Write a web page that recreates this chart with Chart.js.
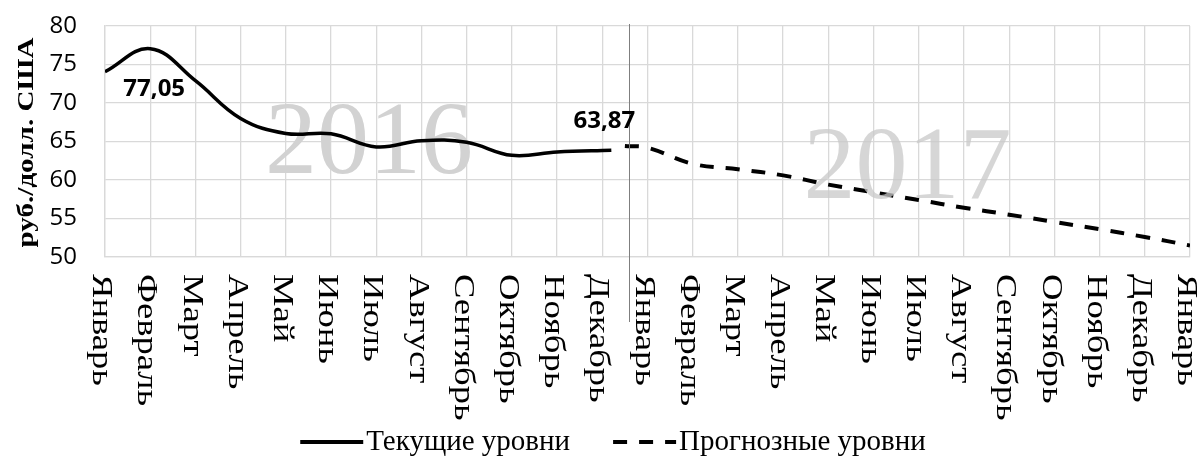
<!DOCTYPE html>
<html lang="ru">
<head>
<meta charset="utf-8">
<script src="https://cdn.jsdelivr.net/npm/chart.js@4.4.1/dist/chart.umd.min.js"></script>
<style>
    html, body { margin: 0; padding: 0; background: #fff; }
    #wrap { position: relative; width: 1201px; height: 464px; }
</style>
</head>
<body>
<div id="wrap"><canvas id="grafico"></canvas></div>
<script>
const meses = ['Январь', 'Февраль', 'Март', 'Апрель', 'Май', 'Июнь', 'Июль', 'Август', 'Сентябрь', 'Октябрь', 'Ноябрь', 'Декабрь'];
const rotulosX = [...meses, ...meses, 'Январь'];

// Текущие уровни (2016)
const posAtual = [0, 1, 2, 3, 4, 5, 6, 7, 8, 9, 10, 11.2];
const cursoAtual = [74.05, 77.05, 72.9, 68.0, 66.05, 66.0, 64.3, 65.1, 64.9, 63.2, 63.65, 63.87];

// Прогнозные уровни (2017)
const posPrevisao = [11.5, 12, 13, 14, 15, 16, 17, 18, 19, 20, 21, 22, 23, 24];
const cursoPrevisao = [64.4, 64.2, 62.1, 61.4, 60.6, 59.4, 58.4, 57.4, 56.4, 55.5, 54.55, 53.6, 52.6, 51.5];

const anos = ['2016', '2017'];
const pontosRotulados = [1, 11];
const separador = 11.6;
const tituloY = 'руб./долл. США';

// === Plugins de desenho ===
const anosFundo = {
    id: 'anosFundo',
    beforeDatasetsDraw(chart) {
        const ctx = chart.ctx;
        ctx.save();
        ctx.font = '104px "Liberation Serif"';
        ctx.textAlign = 'center';
        ctx.fillStyle = '#d2d2d2';
        ctx.fillText(anos[0], chart.scales.x.getPixelForValue(5.84), chart.scales.y.getPixelForValue(60.9));
        ctx.restore();
    },
    afterDatasetsDraw(chart) {
        const ctx = chart.ctx;
        const x = chart.scales.x;
        ctx.save();
        ctx.font = '104px "Liberation Serif"';
        ctx.textAlign = 'center';
        ctx.fillStyle = 'rgba(200,200,200,0.75)';
        ctx.fillText(anos[1], x.getPixelForValue(17.75), chart.scales.y.getPixelForValue(57.6));

        // linha separadora
        const xs = Math.round(x.getPixelForValue(separador)) + 0.5;
        ctx.strokeStyle = '#7f7f7f';
        ctx.lineWidth = 1;
        ctx.beginPath();
        ctx.moveTo(xs, chart.chartArea.top - 2);
        ctx.lineTo(xs, chart.chartArea.bottom + 65);
        ctx.stroke();

        // rótulos de dados
        const meta = chart.getDatasetMeta(0);
        ctx.font = 'bold 24px "Open Sans"';
        ctx.fillStyle = '#000';
        ctx.textBaseline = 'middle';
        pontosRotulados.forEach((i, n) => {
            const p = meta.data[i];
            const txt = cursoAtual[i].toFixed(2).replace('.', ',');
            if (n === 0) ctx.fillText(txt, p.x + 4, p.y + 40);
            else ctx.fillText(txt, p.x - 7, p.y - 29);
        });
        ctx.restore();
    }
};

const textosEixos = {
    id: 'textosEixos',
    afterDraw(chart) {
        const ctx = chart.ctx;
        const x = chart.scales.x;
        const area = chart.chartArea;
        ctx.save();

        // rótulos do eixo X, girados
        ctx.font = '30px "Liberation Serif"';
        ctx.fillStyle = '#000';
        ctx.textAlign = 'left';
        ctx.textBaseline = 'middle';
        rotulosX.forEach((r, i) => {
            ctx.save();
            ctx.translate(x.getPixelForValue(i) - 4, area.bottom + 17);
            ctx.rotate(Math.PI / 2);
            ctx.scale(1.22, 1);
            ctx.fillText(r, 0, 0);
            ctx.restore();
        });

        // título do eixo Y
        ctx.font = 'bold 24px "Liberation Serif"';
        const larg = ctx.measureText(tituloY).width;
        ctx.save();
        ctx.translate(27, (area.top + area.bottom) / 2 + 1);
        ctx.rotate(-Math.PI / 2);
        ctx.scale(210 / larg, 1);
        ctx.textAlign = 'center';
        ctx.textBaseline = 'middle';
        ctx.fillText(tituloY, 0, 0);
        ctx.restore();

        // legenda
        ctx.font = '29px "Liberation Serif"';
        const itens = chart.data.datasets.map(d => ({ label: d.label, dash: d.borderDash || [] }));
        const amostra = 63, gap = 3, entre = 43;
        const larguras = itens.map(it => amostra + gap + ctx.measureText(it.label).width);
        const total = larguras.reduce((a, b) => a + b, 0) + entre;
        let x0 = 613 - total / 2;
        const yl = 442;
        itens.forEach((it, i) => {
            ctx.strokeStyle = '#000';
            ctx.lineWidth = 4;
            ctx.setLineDash(it.dash);
            ctx.beginPath();
            ctx.moveTo(x0, yl);
            ctx.lineTo(x0 + amostra, yl);
            ctx.stroke();
            ctx.setLineDash([]);
            ctx.fillText(it.label, x0 + amostra + gap, yl);
            x0 += larguras[i] + entre;
        });
        ctx.restore();
    }
};

const grade = { color: '#d9d9d9', lineWidth: 1.3, drawTicks: false };

new Chart(document.getElementById('grafico'), {
    type: 'line',
    data: {
        datasets: [
            {
                label: 'Текущие уровни',
                data: posAtual.map((p, i) => ({ x: p, y: cursoAtual[i] })),
                borderColor: '#000',
                borderWidth: 3.5,
                pointRadius: 0,
                tension: 0.4,
                fill: false
            },
            {
                label: 'Прогнозные уровни',
                data: posPrevisao.map((p, i) => ({ x: p, y: cursoPrevisao[i] })),
                borderColor: '#000',
                borderWidth: 4,
                borderDash: [14, 12],
                pointRadius: 0,
                tension: 0.4,
                fill: false
            }
        ]
    },
    options: {
        responsive: true,
        maintainAspectRatio: false,
        animation: false,
        layout: { padding: { top: 26, right: 11, left: 0, bottom: 0 } },
        scales: {
            x: {
                type: 'linear',
                min: 0,
                max: 24,
                ticks: { stepSize: 1, display: false },
                grid: grade,
                border: { color: '#d9d9d9', width: 1.3 },
                afterFit(s) { s.height = 207; }
            },
            y: {
                min: 50,
                max: 80,
                ticks: { stepSize: 5, padding: 28, color: '#000', font: { family: 'Open Sans', size: 24 } },
                grid: grade,
                border: { color: '#d9d9d9', width: 1.3 },
                afterFit(s) {
                    s.width = 105;
                    s.paddingTop = 0;
                    s.paddingBottom = 0;
                }
            }
        },
        plugins: { legend: { display: false }, tooltip: { enabled: false } }
    },
    plugins: [anosFundo, textosEixos]
});
</script>
</body>
</html>
